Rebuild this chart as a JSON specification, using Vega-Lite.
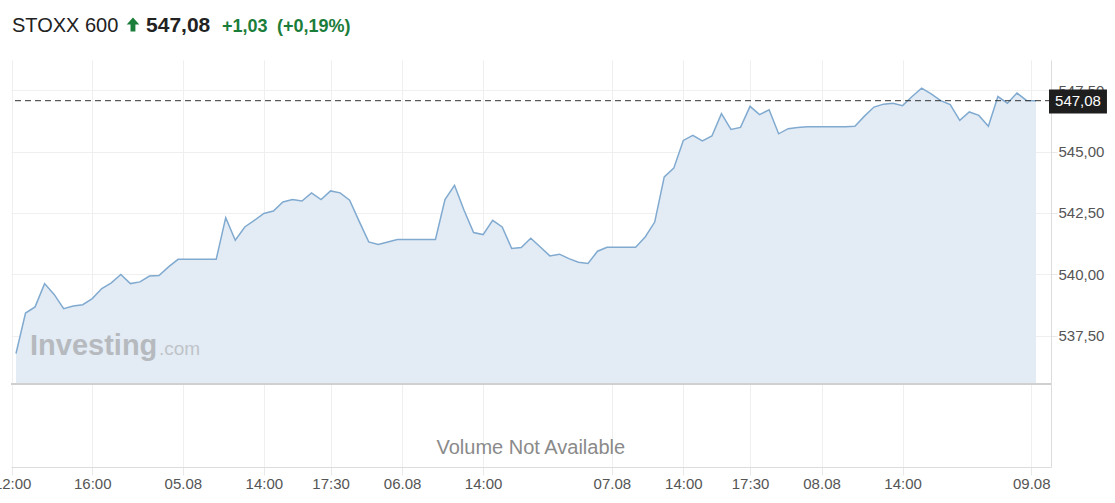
{
  "$schema": "https://vega.github.io/schema/vega-lite/v6.json",
  "width": 1040,
  "height": 407,
  "autosize": {"type": "none"},
  "padding": {"left": 11, "top": 60, "right": 64, "bottom": 36},
  "background": "white",
  "config": {"view": {"stroke": null}, "font": "Liberation Sans"},
  "datasets": {
    "price": [
      {"i":0,"v":536.77},{"i":1,"v":538.42},{"i":2,"v":538.67},{"i":3,"v":539.62},{"i":4,"v":539.18},
      {"i":5,"v":538.60},{"i":6,"v":538.71},{"i":7,"v":538.76},{"i":8,"v":539.01},{"i":9,"v":539.42},
      {"i":10,"v":539.65},{"i":11,"v":539.99},{"i":12,"v":539.62},{"i":13,"v":539.69},{"i":14,"v":539.93},
      {"i":15,"v":539.95},{"i":16,"v":540.30},{"i":17,"v":540.61},{"i":18,"v":540.61},{"i":19,"v":540.61},
      {"i":20,"v":540.61},{"i":21,"v":540.61},{"i":22,"v":542.31},{"i":23,"v":541.39},{"i":24,"v":541.93},
      {"i":25,"v":542.20},{"i":26,"v":542.48},{"i":27,"v":542.58},{"i":28,"v":542.95},{"i":29,"v":543.05},
      {"i":30,"v":542.99},{"i":31,"v":543.32},{"i":32,"v":543.05},{"i":33,"v":543.40},{"i":34,"v":543.32},
      {"i":35,"v":543.02},{"i":36,"v":542.16},{"i":37,"v":541.32},{"i":38,"v":541.22},{"i":39,"v":541.32},
      {"i":40,"v":541.42},{"i":41,"v":541.42},{"i":42,"v":541.42},{"i":43,"v":541.42},{"i":44,"v":541.42},
      {"i":45,"v":543.05},{"i":46,"v":543.63},{"i":47,"v":542.61},{"i":48,"v":541.70},{"i":49,"v":541.62},
      {"i":50,"v":542.20},{"i":51,"v":541.93},{"i":52,"v":541.05},{"i":53,"v":541.09},{"i":54,"v":541.47},
      {"i":55,"v":541.11},{"i":56,"v":540.75},{"i":57,"v":540.82},{"i":58,"v":540.64},{"i":59,"v":540.49},
      {"i":60,"v":540.44},{"i":61,"v":540.94},{"i":62,"v":541.10},{"i":63,"v":541.10},{"i":64,"v":541.10},
      {"i":65,"v":541.10},{"i":66,"v":541.52},{"i":67,"v":542.13},{"i":68,"v":543.97},{"i":69,"v":544.33},
      {"i":70,"v":545.46},{"i":71,"v":545.67},{"i":72,"v":545.44},{"i":73,"v":545.64},{"i":74,"v":546.55},
      {"i":75,"v":545.91},{"i":76,"v":545.99},{"i":77,"v":546.85},{"i":78,"v":546.51},{"i":79,"v":546.71},
      {"i":80,"v":545.73},{"i":81,"v":545.94},{"i":82,"v":545.99},{"i":83,"v":546.02},{"i":84,"v":546.02},
      {"i":85,"v":546.02},{"i":86,"v":546.02},{"i":87,"v":546.02},{"i":88,"v":546.04},{"i":89,"v":546.45},
      {"i":90,"v":546.82},{"i":91,"v":546.94},{"i":92,"v":546.98},{"i":93,"v":546.88},{"i":94,"v":547.25},
      {"i":95,"v":547.59},{"i":96,"v":547.36},{"i":97,"v":547.08},{"i":98,"v":546.92},{"i":99,"v":546.28},
      {"i":100,"v":546.62},{"i":101,"v":546.48},{"i":102,"v":546.04},{"i":103,"v":547.25},{"i":104,"v":546.98},
      {"i":105,"v":547.39},{"i":106,"v":547.09},{"i":107,"v":547.08}
    ]
  },
  "layer": [
    {
      "data": {"name": "price"},
      "mark": {"type": "area", "color": "#e3ecf5"},
      "encoding": {
        "x": {
          "field": "i", "type": "quantitative",
          "scale": {"domain": [-0.524, 108.57], "nice": false, "zero": false},
          "axis": {
            "title": null,
            "values": [-0.4, 8, 17.5, 26, 33, 40.5, 49, 62.5, 70, 77, 84.5, 93, 106.5],
            "labelExpr": "['12:00','16:00','05.08','14:00','17:30','06.08','14:00','07.08','14:00','17:30','08.08','14:00','09.08'][indexof([-0.4,8,17.5,26,33,40.5,49,62.5,70,77,84.5,93,106.5], datum.value)]",
            "grid": true, "gridColor": "#efefef",
            "tickColor": "#e8e8e8", "tickSize": 8,
            "domainColor": "#dcdcdc",
            "labelColor": "#555555", "labelFontSize": 15, "labelFont": "Liberation Sans",
            "labelPadding": 1, "labelFlush": false, "labelOverlap": false
          }
        },
        "y": {
          "field": "v", "type": "quantitative",
          "scale": {"domain": [532.14, 548.74], "nice": false, "zero": false},
          "axis": {
            "title": null, "orient": "right",
            "values": [537.5, 540, 542.5, 545, 547.5],
            "labelExpr": "replace(format(datum.value, '.2f'), '.', ',')",
            "grid": true, "gridColor": "#efefef",
            "tickColor": "#e8e8e8", "tickSize": 6,
            "domainColor": "#dcdcdc",
            "labelColor": "#555555", "labelFontSize": 15, "labelFont": "Liberation Sans",
            "labelPadding": 1, "labelFlush": false, "labelOverlap": false
          }
        },
        "y2": {"datum": 535.53}
      }
    },
    {
      "data": {"name": "price"},
      "mark": {"type": "line", "color": "#80aad0", "strokeWidth": 1.5},
      "encoding": {
        "x": {"field": "i", "type": "quantitative"},
        "y": {"field": "v", "type": "quantitative"}
      }
    },
    {
      "data": {"values": [{"t": "Investing"}]},
      "mark": {"type": "text", "align": "left", "baseline": "alphabetic", "font": "Liberation Sans", "fontWeight": "bold", "fontSize": 29, "color": "#b6babf", "letterSpacing": -0.5},
      "encoding": {"x": {"datum": 1.47}, "y": {"datum": 536.71}, "text": {"field": "t"}}
    },
    {
      "data": {"values": [{"t": ".com"}]},
      "mark": {"type": "text", "align": "left", "baseline": "alphabetic", "font": "Liberation Sans", "fontSize": 19, "color": "#bfc3c8"},
      "encoding": {"x": {"datum": 15.0}, "y": {"datum": 536.71}, "text": {"field": "t"}}
    },
    {
      "data": {"values": [{}]},
      "mark": {"type": "rule", "color": "#d0d0d0", "strokeWidth": 2},
      "encoding": {"y": {"datum": 535.53}}
    },
    {
      "data": {"values": [{}]},
      "mark": {"type": "rule", "color": "#333333", "strokeWidth": 1, "strokeDash": [6, 4]},
      "encoding": {"y": {"datum": 547.08}}
    },
    {
      "data": {"values": [{}]},
      "mark": {"type": "rect", "color": "#1e1e1e"},
      "encoding": {"x": {"datum": 108.36}, "x2": {"datum": 114.44}, "y": {"datum": 547.54}, "y2": {"datum": 546.56}}
    },
    {
      "data": {"values": [{"t": "547,08"}]},
      "mark": {"type": "text", "align": "center", "baseline": "middle", "font": "Liberation Sans", "fontSize": 15, "color": "#ffffff"},
      "encoding": {"x": {"datum": 111.4}, "y": {"datum": 547.06}, "text": {"field": "t"}}
    },
    {
      "data": {"values": [{"t": "Volume Not Available"}]},
      "mark": {"type": "text", "align": "center", "baseline": "middle", "font": "Liberation Sans", "fontSize": 20, "color": "#8a8a8a"},
      "encoding": {"x": {"datum": 54.0}, "y": {"datum": 532.92}, "text": {"field": "t"}}
    },
    {
      "data": {"values": [{"t": "STOXX 600"}]},
      "mark": {"type": "text", "align": "left", "baseline": "alphabetic", "font": "Liberation Sans", "fontSize": 20, "color": "#222222"},
      "encoding": {"x": {"datum": -0.42}, "y": {"datum": 549.89}, "text": {"field": "t"}}
    },
    {
      "data": {"values": [{}]},
      "mark": {"type": "point", "filled": true, "color": "#1b7d3a", "opacity": 1, "size": 196, "shape": "M0,-1L0.9,0L0.35,0L0.35,1L-0.35,1L-0.35,0L-0.9,0Z"},
      "encoding": {"x": {"datum": 12.27}, "y": {"datum": 550.19}}
    },
    {
      "data": {"values": [{"t": "547,08"}]},
      "mark": {"type": "text", "align": "left", "baseline": "alphabetic", "font": "Liberation Sans", "fontSize": 21, "fontWeight": "bold", "color": "#222222"},
      "encoding": {"x": {"datum": 13.64}, "y": {"datum": 549.89}, "text": {"field": "t"}}
    },
    {
      "data": {"values": [{"t": "+1,03"}]},
      "mark": {"type": "text", "align": "left", "baseline": "alphabetic", "font": "Liberation Sans", "fontSize": 18, "fontWeight": "bold", "color": "#1b7d3a"},
      "encoding": {"x": {"datum": 21.61}, "y": {"datum": 549.89}, "text": {"field": "t"}}
    },
    {
      "data": {"values": [{"t": "(+0,19%)"}]},
      "mark": {"type": "text", "align": "left", "baseline": "alphabetic", "font": "Liberation Sans", "fontSize": 18, "fontWeight": "bold", "color": "#1b7d3a"},
      "encoding": {"x": {"datum": 27.38}, "y": {"datum": 549.89}, "text": {"field": "t"}}
    }
  ]
}
